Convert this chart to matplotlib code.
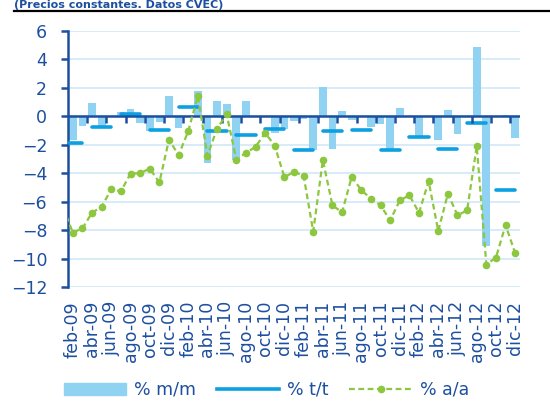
import numpy as np
import matplotlib
matplotlib.use("Agg")
import matplotlib.pyplot as plt
from matplotlib import markers
from matplotlib.patches import Patch
from matplotlib.lines import Line2D

# meses (ene-09 queda fuera del eje, solo sirve para el arranque de las lineas)
mes = ['ene', 'feb', 'mar', 'abr', 'may', 'jun', 'jul', 'ago', 'sep', 'oct', 'nov', 'dic']
labels = [m + '-' + a for a in ['09', '10', '11', '12'] for m in mes]

# % m/m desde feb-09
mm = [-1.64, -0.68, 0.91, -0.80, 0.00, 0.33, 0.49, -0.49, -1.05, -0.37, 1.45, -0.80,
      0.00, 1.80, -3.25, 1.05, 0.84, -3.10, 1.05, 0.00, 0.00, -1.20, -0.86, -0.35,
      -0.20, -2.34, 2.08, -2.27, 0.37, -0.28, 0.00, -0.72, -0.57, -2.38, 0.61, 0.00,
      -1.40, 0.00, -1.68, 0.47, -1.21, 0.00, 4.90, -9.11, 0.00, 0.12, -1.50]

# % a/a desde ene-09
aa = [-6.40,
      -8.18, -7.87, -6.78, -6.36, -5.12, -5.28, -4.02, -4.00, -3.67, -4.65, -1.64, -2.73,
      -1.05, 1.43, -2.76, -0.86, 0.14, -3.04, -2.57, -2.15, -1.17, -2.06, -4.28, -3.90,
      -4.18, -8.10, -3.08, -6.26, -6.75, -4.25, -5.19, -5.79, -6.26, -7.31, -5.91, -5.55,
      -6.78, -4.56, -8.06, -5.44, -6.96, -6.61, -2.10, -10.42, -9.93, -7.64, -9.63]

# % t/t trimestral 2009T1 .. 2012T4
tt = [-1.89, -0.72, 0.16, -0.96, 0.65, -1.05, -1.28, -0.86,
      -2.34, -1.03, -0.98, -2.36, -1.43, -2.29, -0.49, -5.19]

DARK = '#1d4f9f'
BAR = '#8fd2f2'
TT = '#0aa0e2'
GREEN = '#8dc63f'
GRID = '#cfe9f7'

plt.rcParams['font.family'] = ['DejaVu Sans']
FS = 12.5

fig = plt.figure(figsize=(5.5, 4.07), dpi=100)
ax = fig.add_axes([68/550, 1-287/407, 452/550, 256/407])

x = np.arange(len(labels))
ax.bar(x[1:], mm, width=0.8, color=BAR, zorder=2)

for q, v in enumerate(tt):
    ax.plot([3*q, 3*q + 2], [v, v], color=TT, lw=2.6, solid_capstyle='round', zorder=3)

ax.plot(x, aa, color=GREEN, lw=1.6, ls=(0, (2.6, 1.6)), marker='o', ms=5.5,
        markeredgewidth=0, zorder=5)

# linea del cero con sus marcas
ax.axhline(0, color=DARK, lw=1.8, zorder=4)
bounds = np.arange(2.5, 47, 2)
ax.plot(bounds, np.zeros(len(bounds)), ls='none', marker=markers.TICKDOWN,
        ms=5, mew=1.8, color=DARK, zorder=4)

ax.set_xlim(0.5, 47.5)
ax.set_ylim(-12, 6)
ax.set_yticks(np.arange(-12, 7, 2))
ax.yaxis.grid(True, color=GRID, lw=1.2)
ax.set_axisbelow(True)
for s in ['top', 'right', 'bottom']:
    ax.spines[s].set_visible(False)
ax.spines['left'].set_color(DARK)
ax.spines['left'].set_linewidth(1.8)
ax.tick_params(axis='y', colors=DARK, labelsize=FS, length=5, width=1.8, pad=10)

ax.set_xticks(x[1::2])
ax.set_xticklabels(labels[1::2], rotation=90)
ax.tick_params(axis='x', length=0, colors=DARK, labelsize=FS, pad=10)

handles = [Patch(color=BAR),
           Line2D([], [], color=TT, lw=2.6),
           Line2D([], [], color=GREEN, lw=1.6, ls=(0, (2.6, 1.6)), marker='o',
                  ms=5.5, markeredgewidth=0)]
leg = fig.legend(handles, ['% m/m', '% t/t', '% a/a'], loc='center left',
                 bbox_to_anchor=(55/550, 1-390/407), ncol=3, frameon=False,
                 fontsize=FS, handlelength=3.6, handletextpad=0.45,
                 columnspacing=1.2, borderpad=0, numpoints=1)
for t in leg.get_texts():
    t.set_color(DARK)

# titulo y filete
fig.text(14/550, 1-8/407, '(Precios constantes. Datos CVEC)', fontsize=8,
         fontweight='bold', color=DARK, va='baseline')
fig.add_artist(Line2D([14/550, 1], [1-10.5/407, 1-10.5/407], color='black', lw=1.6))

fig.savefig('out.png', dpi=100)
